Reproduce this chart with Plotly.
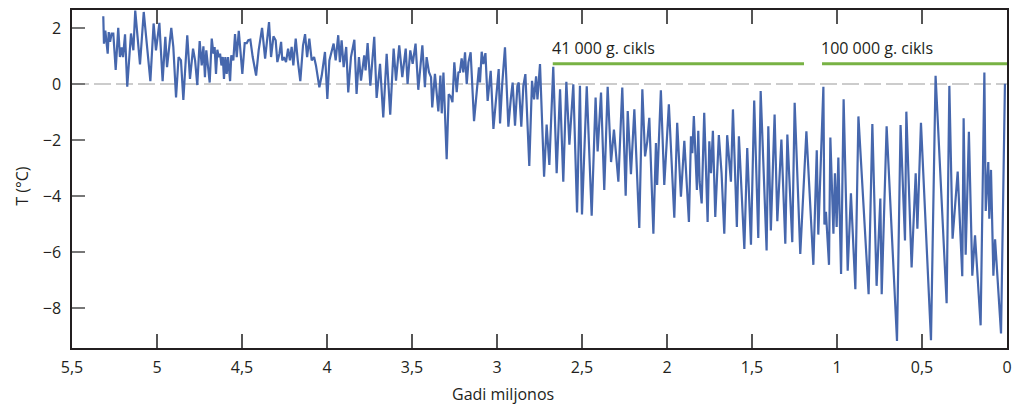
import plotly.graph_objects as go

# ---- data ----
# time in millions of years ago, temperature anomaly in °C
t_early = [5.316, 5.312, 5.304, 5.296, 5.290, 5.284, 5.276, 5.267, 5.257, 5.243,
           5.228, 5.218, 5.208, 5.200, 5.188, 5.175, 5.153, 5.139, 5.128, 5.100,
           5.078, 5.039, 5.020, 5.006, 4.986, 4.967, 4.951, 4.941, 4.927, 4.916,
           4.904, 4.888, 4.873, 4.859, 4.845, 4.822, 4.806, 4.788, 4.776, 4.763,
           4.749, 4.737, 4.727, 4.718, 4.710, 4.690, 4.678]
T_early = [2.42, 1.44, 1.90, 1.50, 1.08, 1.85, 1.50, 1.80, 1.80, 0.50,
           2.00, 0.96, 1.30, 0.96, 1.77, -0.10, 1.80, 1.20, 2.62, 0.70,
           2.57, 0.10, 2.16, 1.20, 2.18, 0.10, 1.68, 0.60, 1.44, 2.00,
           1.32, -0.48, 0.96, 0.84, -0.57, 1.74, 0.18, 1.26, 0.84, -0.04,
           1.53, 0.66, 1.34, 0.24, 1.20, 0.05, 1.62]

t_plio1 = [4.668, 4.661, 4.653, 4.645, 4.637, 4.629, 4.621, 4.613, 4.606, 4.598,
           4.590, 4.582, 4.570, 4.563, 4.551, 4.541, 4.531, 4.519, 4.498, 4.484,
           4.472, 4.463, 4.451, 4.437, 4.417, 4.402, 4.382, 4.364, 4.341, 4.329,
           4.315, 4.302, 4.292, 4.280, 4.270, 4.263, 4.253, 4.241, 4.229, 4.218,
           4.208, 4.198, 4.184, 4.172, 4.157, 4.141, 4.129, 4.117, 4.104, 4.090,
           4.076, 4.065, 4.045, 4.031, 4.012, 3.998, 3.986]
T_plio1 = [1.08, 1.32, 0.36, 1.22, 0.96, 1.08, 0.66, 0.96, 0.18, 0.96,
           0.36, 0.96, 0.10, 1.02, 0.84, 1.78, 0.96, 1.90, 0.36, 1.46,
           1.46, 1.56, 1.58, 0.96, 0.30, 1.20, 2.00, 0.90, 2.21, 0.96,
           1.70, 1.56, 0.78, 1.08, 1.50, 0.84, 0.96, 0.78, 1.26, 0.84,
           1.32, 0.66, 1.62, 0.84, 0.10, 1.38, 1.78, 0.96, 1.62, 0.84,
           0.96, 0.66, -0.12, 0.30, 1.14, -0.54, 0.84]

t_plio2 = [3.961, 3.949, 3.934, 3.924, 3.914, 3.902, 3.887, 3.875, 3.859, 3.839,
           3.826, 3.812, 3.800, 3.781, 3.773, 3.761, 3.745, 3.722, 3.708, 3.688,
           3.669, 3.649, 3.628, 3.608, 3.594, 3.575, 3.557, 3.537, 3.526, 3.510,
           3.496, 3.479, 3.463, 3.439, 3.424, 3.414, 3.400, 3.388, 3.381, 3.365,
           3.345, 3.333, 3.325, 3.315, 3.296]
T_plio2 = [1.44, 0.84, 1.74, 0.78, 1.56, 0.60, 1.32, -0.30, 0.96, 1.58,
           -0.36, 0.96, 0.12, 1.02, 0.48, 1.46, -0.06, 1.68, -0.50, 0.72,
           -1.20, 1.08, -1.10, 1.26, 0.12, 1.38, 0.24, 1.26, 0.00, 1.20,
           0.72, 1.44, -0.21, 1.38, -0.12, 0.96, 0.42, 0.24, -0.84, 0.36,
           -0.98, 0.30, -1.05, 0.41, -2.69]

t_plio3 = [3.284, 3.272, 3.262, 3.251, 3.237, 3.227, 3.218, 3.208, 3.198, 3.188,
           3.178, 3.168, 3.155, 3.135, 3.119, 3.106, 3.100, 3.090, 3.080, 3.068,
           3.055, 3.037, 3.021, 3.006, 2.990, 2.982, 2.970, 2.953, 2.933, 2.919,
           2.908, 2.894, 2.880, 2.872, 2.857, 2.845, 2.833, 2.810, 2.794, 2.782,
           2.770, 2.762, 2.747]
T_plio3 = [-0.37, -0.45, -0.65, 0.77, -0.29, 0.41, 0.43, 0.91, 0.41, 1.13,
           -0.01, 0.77, 1.13, -1.33, -0.19, 0.59, 0.05, 1.15, 0.71, 1.10,
           -0.61, 0.47, -1.61, -0.49, 0.53, -1.41, -0.07, 1.31, -1.53, -0.55,
           0.05, -1.49, -0.07, 0.05, -1.53, -0.07, 0.35, -2.93, 0.11, -0.55,
           0.27, -0.55, 0.71]

t_pleist1 = [2.723, 2.708, 2.692, 2.669, 2.649, 2.629, 2.610, 2.592, 2.574, 2.551,
             2.529, 2.512, 2.500, 2.472, 2.443, 2.420, 2.408, 2.388, 2.369, 2.349,
             2.329, 2.312, 2.286, 2.263, 2.243, 2.231, 2.212, 2.192, 2.163, 2.145,
             2.129, 2.116, 2.104, 2.080, 2.065, 2.058, 2.036, 2.016, 1.989, 1.957,
             1.940, 1.918, 1.898, 1.871, 1.859, 1.851, 1.842, 1.834, 1.824, 1.816,
             1.808, 1.796, 1.781, 1.761, 1.751, 1.741, 1.730, 1.716, 1.695, 1.679,
             1.663, 1.646, 1.624, 1.612, 1.589, 1.577, 1.545, 1.528, 1.506, 1.487,
             1.463, 1.449, 1.414, 1.404, 1.389]
T_pleist1 = [-3.31, -1.45, -2.89, 0.61, -3.19, -0.19, -3.49, 0.08, -2.17, -0.01,
             -4.59, -0.07, -4.66, -0.08, -4.71, -0.49, -2.41, -0.31, -3.79, -0.10,
             -2.79, -1.63, -3.49, -0.13, -3.99, -0.97, -3.22, -0.91, -5.14, -0.19,
             -2.59, -2.05, -1.21, -5.35, -2.11, -3.61, -0.23, -3.61, -0.73, -4.78,
             -1.39, -4.03, -2.03, -4.93, -1.87, -2.47, -1.15, -2.41, -3.79, -1.67,
             -3.49, -4.27, -1.03, -4.93, -2.05, -3.19, -1.67, -4.75, -1.83, -3.19,
             -5.35, -1.83, -3.49, -0.91, -5.11, -1.87, -5.89, -2.29, -5.74, -0.59,
             -5.50, -0.25, -5.95, -1.51, -5.23]

t_pleist2 = [1.367, 1.351, 1.327, 1.304, 1.292, 1.263, 1.249, 1.216, 1.180, 1.139,
             1.119, 1.110, 1.080, 1.074, 1.065, 1.047, 1.039, 1.021, 1.012, 1.002,
             0.992, 0.976, 0.961, 0.937, 0.918, 0.892, 0.874, 0.814, 0.792, 0.767,
             0.745, 0.737, 0.708, 0.647, 0.626, 0.600, 0.592, 0.561, 0.537, 0.527,
             0.506, 0.447, 0.420, 0.355, 0.339, 0.320, 0.290, 0.263, 0.255, 0.243,
             0.224, 0.204, 0.188, 0.155, 0.133, 0.125, 0.110, 0.104, 0.094, 0.080,
             0.070, 0.035, 0.012]
T_pleist2 = [-1.09, -4.90, -1.99, -5.71, -1.81, -5.65, -0.67, -6.07, -1.69, -6.46,
             -2.37, -5.38, -0.10, -5.02, -4.57, -6.46, -1.91, -5.35, -3.19, -5.11,
             -2.63, -6.79, -0.55, -6.67, -3.91, -7.33, -1.16, -7.51, -1.43, -7.21,
             -4.09, -7.51, -1.51, -9.18, -1.47, -5.59, -0.99, -6.55, -3.19, -5.17,
             -1.39, -9.15, 0.29, -7.83, -0.07, -5.53, -3.13, -6.87, -1.23, -6.10,
             -1.71, -6.85, -5.41, -8.62, 0.41, -4.54, -2.79, -4.81, -3.07, -6.85,
             -5.55, -8.91, 0.01]

# cycle annotations
cycle_labels = ["41 000 g. cikls", "100 000 g. cikls"]
cycle_start = [2.672, 1.088]
cycle_end = [1.194, 0.0]
cycle_level = 0.72
label_level = 1.30

x_ticks = [5.5, 5, 4.5, 4, 3.5, 3, 2.5, 2, 1.5, 1, 0.5, 0]
y_ticks = [2, 0, -2, -4, -6, -8]

time = t_early + t_plio1 + t_plio2 + t_plio3 + t_pleist1 + t_pleist2
temp = T_early + T_plio1 + T_plio2 + T_plio3 + T_pleist1 + T_pleist2

FONT = "Open Sans"
INK = "#231f20"

fig = go.Figure()

# zero reference line
fig.add_trace(go.Scatter(x=[5.5, 0], y=[0, 0], mode="lines",
                         line=dict(color="#cccccc", width=2, dash="17px,5px"),
                         hoverinfo="skip", showlegend=False))

# temperature record
fig.add_trace(go.Scatter(x=time, y=temp, mode="lines",
                         line=dict(color="#4667ad", width=2.2),
                         showlegend=False))

# cycle bars
for s, e in zip(cycle_start, cycle_end):
    fig.add_trace(go.Scatter(x=[s, e], y=[cycle_level, cycle_level], mode="lines",
                             line=dict(color="#78b244", width=3),
                             hoverinfo="skip", showlegend=False))

for lab, s in zip(cycle_labels, cycle_start):
    fig.add_annotation(x=s, y=label_level, xref="x", yref="y", text=lab,
                       showarrow=False, xanchor="left", yanchor="middle",
                       xshift=-3,
                       font=dict(family=FONT, size=16, color=INK))

# axis titles as annotations for precise placement
fig.add_annotation(x=0.461, y=0, xref="paper", yref="paper", yshift=-46,
                   text="Gadi miljonos", showarrow=False, xanchor="center",
                   yanchor="middle", font=dict(family=FONT, size=16, color=INK))
fig.add_annotation(x=0, y=0.48, xref="paper", yref="paper", xshift=-50,
                   text="T (°C)", showarrow=False, textangle=-90,
                   xanchor="center", yanchor="middle",
                   font=dict(family=FONT, size=16, color=INK))

fig.update_layout(
    width=1015, height=407,
    margin=dict(l=72, r=8, t=10, b=59, autoexpand=False),
    paper_bgcolor="white", plot_bgcolor="white",
    separators=", ",
    font=dict(family=FONT, size=16, color=INK),
    showlegend=False,
)
fig.update_xaxes(range=[5.5, -0.0001], tickvals=x_ticks,
                 showgrid=False, zeroline=False, automargin=False,
                 showline=True, linecolor=INK, linewidth=1.5, mirror="ticks",
                 ticks="inside", ticklen=14, tickcolor="#555555", tickwidth=1.5,
                 ticklabelstandoff=4, ticklabeloverflow="allow",
                 tickfont=dict(family=FONT, size=16, color=INK))
fig.update_yaxes(range=[-9.43, 2.64], tickvals=y_ticks,
                 showgrid=False, zeroline=False, automargin=False,
                 showline=True, linecolor=INK, linewidth=1.5, mirror=True,
                 ticks="inside", ticklen=13, tickcolor="#777777", tickwidth=1.5,
                 ticklabelstandoff=6,
                 tickfont=dict(family=FONT, size=16, color=INK))

# remove the default page margin so the figure sits at the window's top-left
fig.write_html("out.html",
               config={"displayModeBar": False},
               post_script="document.body.style.margin='0';document.body.style.overflow='hidden';")
